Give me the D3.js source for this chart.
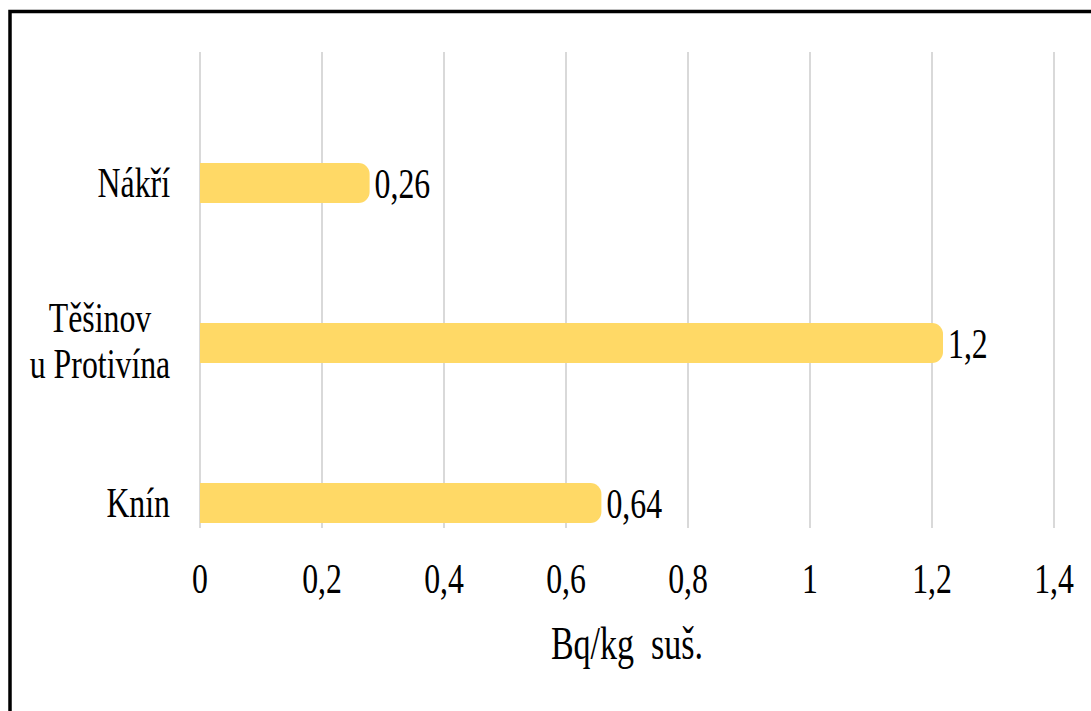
<!DOCTYPE html>
<html>
<head>
<meta charset="utf-8">
<script src="https://cdn.jsdelivr.net/npm/d3@7"></script>
<style>
  html, body { margin: 0; padding: 0; background: #fff; }
  svg { display: block; }
  text { font-family: "Liberation Serif", "Times New Roman", serif; fill: #000; white-space: pre; }
</style>
</head>
<body>
<svg id="chart" width="1091" height="711"></svg>
<script>
// Sites (top to bottom) and their activity in Bq/kg of dry matter
const sites = ["Nákří", "Těšinov\nu Protivína", "Knín"];
const values = [0.26, 1.2, 0.64];
const tickValues = [0, 0.2, 0.4, 0.6, 0.8, 1, 1.2, 1.4];
const axisTitle = "Bq/kg  suš.";

const W = 1091, H = 711;
const svg = d3.select("#chart");

const fontSize = 43;
const squeeze = 0.74;          // narrow serif lettering
const barColor = "#FFD966";
const gridColor = "#D9D9D9";

const x = d3.scaleLinear().domain([0, 1.4]).range([200, 1054]);
const y = d3.scaleBand().domain(sites).range([103, 583])
  .paddingInner(0.75).paddingOuter(0.375);
const gridTop = 52, gridBottom = 528;

const locale = d3.formatLocale({ decimal: ",", thousands: " ", grouping: [3], currency: ["", ""] });
const fmt = v => locale.format("~g")(v);

// Outer frame
svg.append("rect")
  .attr("x", 10).attr("y", 11.5)
  .attr("width", 1100).attr("height", 720)
  .attr("fill", "none").attr("stroke", "#000").attr("stroke-width", 3.5);

// Vertical gridlines
svg.append("g").selectAll("line")
  .data(tickValues).join("line")
  .attr("x1", d => x(d)).attr("x2", d => x(d))
  .attr("y1", gridTop).attr("y2", gridBottom)
  .attr("stroke", gridColor).attr("stroke-width", 2);

// Text helper: condensed serif lettering
function label(g, str, px, py, anchor, size) {
  return g.append("text")
    .attr("transform", `translate(${px},${py}) scale(${squeeze},1)`)
    .attr("text-anchor", anchor)
    .style("font-size", (size || fontSize) + "px")
    .text(str);
}

// Bars with a rounded right end
const cap = 11, r = 11;
function barPath(v, i) {
  const x0 = x(0), x1 = x(v) + cap;
  const y0 = y(sites[i]), h = y.bandwidth();
  const p = d3.path();
  p.moveTo(x0, y0);
  p.lineTo(x1 - r, y0);
  p.arcTo(x1, y0, x1, y0 + r, r);
  p.lineTo(x1, y0 + h - r);
  p.arcTo(x1, y0 + h, x1 - r, y0 + h, r);
  p.lineTo(x0, y0 + h);
  p.closePath();
  return p.toString();
}
svg.append("g").selectAll("path")
  .data(values).join("path")
  .attr("d", (d, i) => barPath(d, i))
  .attr("fill", barColor);

// Value labels
const vl = svg.append("g");
values.forEach((v, i) => {
  label(vl, fmt(v), x(v) + cap + 5, y(sites[i]) + y.bandwidth() / 2 + 15, "start");
});

// Category labels
const cl = svg.append("g");
sites.forEach(s => {
  const lines = s.split("\n");
  const cy = y(s) + y.bandwidth() / 2;
  if (lines.length === 1) {
    label(cl, lines[0], 170, cy + 14, "end");
  } else {
    const t = cl.append("text")
      .attr("transform", `translate(100,${cy - 11}) scale(${squeeze},1)`)
      .attr("text-anchor", "middle")
      .style("font-size", fontSize + "px");
    lines.forEach((ln, k) => {
      t.append("tspan").attr("x", 0).attr("dy", k === 0 ? 0 : 46).text(ln);
    });
  }
});

// Tick labels
const tl = svg.append("g");
tickValues.forEach(t => label(tl, fmt(t), x(t), 593, "middle"));

// Axis title
label(svg.append("g"), axisTitle, (x(0) + x(1.4)) / 2, 659, "middle", 46);
</script>
</body>
</html>
